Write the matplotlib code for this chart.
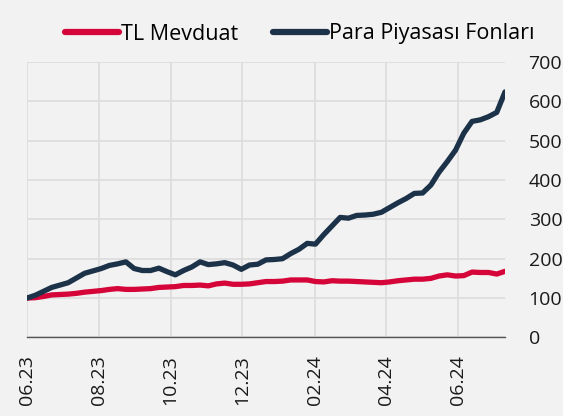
import matplotlib
matplotlib.use("Agg")
import matplotlib.pyplot as plt
import pandas as pd

plt.rcParams['font.family'] = ['Open Sans', 'DejaVu Sans']

dates = pd.date_range("2023-06-01", periods=59, freq="7D")

tl_mevduat = [100, 101, 104, 108, 109, 110, 112, 115, 117, 119,
              122, 124, 122, 122, 123, 124, 127, 128, 129, 132,
              132, 133, 131, 136, 138, 135, 135, 136, 139, 142,
              142, 143, 146, 146, 146, 142, 141, 144, 143, 143,
              142, 141, 140, 139, 141, 144, 146, 148, 148, 150,
              156, 159, 156, 157, 166, 165, 165, 161, 168]

para_piyasasi = [100, 107, 117, 127, 133, 139, 151, 163, 169, 175,
                 183, 187, 192, 175, 170, 170, 176, 167, 159, 170,
                 179, 192, 185, 187, 190, 184, 173, 184, 186, 197,
                 198, 200, 213, 224, 239, 237, 261, 283, 305, 303,
                 310, 311, 313, 318, 330, 342, 353, 366, 367, 387,
                 420, 447, 476, 519, 549, 553, 561, 572, 624]

tick_dates = pd.to_datetime(["2023-06-01", "2023-08-01", "2023-10-01", "2023-12-01",
                             "2024-02-01", "2024-04-01", "2024-06-01"])
tick_labels = ["06.23", "08.23", "10.23", "12.23", "02.24", "04.24", "06.24"]
y_ticks = [0, 100, 200, 300, 400, 500, 600, 700]

series_names = ["TL Mevduat", "Para Piyasası Fonları"]
colors = ["#D5053A", "#1C3249"]

bg = "#F2F2F2"
fig = plt.figure(figsize=(5.63, 4.16), dpi=100, facecolor=bg)
ax = fig.add_axes([27/563, 1-337.4/416, (505-27)/563, (337.4-62)/416])
ax.set_facecolor(bg)

ax.plot(dates, tl_mevduat, color=colors[0], lw=3.8, solid_capstyle='round',
        solid_joinstyle='round', label=series_names[0], zorder=3)
ax.plot(dates, para_piyasasi, color=colors[1], lw=3.8, solid_capstyle='round',
        solid_joinstyle='round', label=series_names[1], zorder=4)

ax.set_xlim(dates[0], dates[-1])
ax.set_ylim(0, 700)
ax.set_yticks(y_ticks)
ax.yaxis.tick_right()
ax.tick_params(axis='y', length=0, pad=17, labelsize=14, colors='#1a1a1a')
ax.set_xticks(tick_dates)
ax.set_xticklabels(tick_labels, rotation=90, fontsize=14, color='#1a1a1a')
ax.tick_params(axis='x', length=0, pad=13)

ax.grid(True, color='#DCDCDC', lw=1.2, zorder=0)
ax.set_axisbelow(True)
for s in ['top', 'left', 'right']:
    ax.spines[s].set_visible(False)
ax.spines['bottom'].set_color('#555555')
ax.spines['bottom'].set_linewidth(1.0)
ax.spines['bottom'].set_zorder(5)

handles, labels = ax.get_legend_handles_labels()
leg = fig.legend(handles, labels, loc='center', bbox_to_anchor=(300/563, 1-34/416),
                 ncol=2, frameon=False, fontsize=15.5, handlelength=2.5,
                 handletextpad=0.1, columnspacing=1.6)
for h in leg.get_lines():
    h.set_linewidth(4.5)
    h.set_solid_capstyle('round')

fig.savefig("out.png", dpi=100, facecolor=bg)
